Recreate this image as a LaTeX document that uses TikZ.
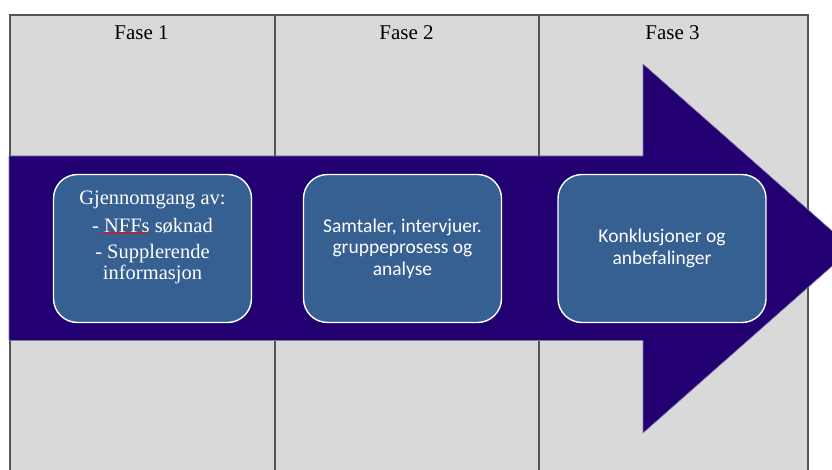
\documentclass[tikz,border=0pt]{standalone}
\usepackage{fontspec}
\setmainfont{Liberation Serif}
\newfontfamily\calibrifont{Carlito}
\usetikzlibrary{positioning,decorations.pathmorphing}
\definecolor{phasegray}{RGB}{217,217,217}
\definecolor{arrowpurple}{RGB}{34,0,114}
\definecolor{boxblue}{RGB}{55,96,146}
\definecolor{gridline}{RGB}{85,85,85}

\begin{document}
\begin{tikzpicture}[x=1pt,y=-1pt,
  phase/.style={rectangle,rounded corners=24pt,draw=white,line width=1.4pt,fill=boxblue,
    minimum width=198pt,minimum height=148pt,inner sep=0pt},
  boxtext/.style={text=white,align=center,font=\calibrifont\fontsize{19.5}{21.5}\selectfont},
  serifboxtext/.style={text=white,align=center,font=\fontsize{20.5}{21}\selectfont},
  header/.style={font=\fontsize{21}{22}\selectfont}]
  \tikzstyle{grid} = [draw=gridline,line width=1.1pt]
%  the page is 832 x 470, y runs downwards

  \useasboundingbox (0,0) rectangle (832,470);
  \clip (0,0) rectangle (832,470);

  % table with three phases
  \fill[phasegray] (10,15) rectangle (808,480);
  \draw[grid] (10,480) -- (10,15) -- (808,15) -- (808,480);
  \foreach \x in {275,539}
    \draw[grid] (\x,15) -- (\x,480);

  \node[header] (FASE1) at (141.5,33) {Fase 1};
  \node[header] (FASE2) at (406.5,33) {Fase 2};
  \node[header] (FASE3) at (672.5,33) {Fase 3};

  % big arrow
  \fill[arrowpurple,draw=arrowpurple!55!white,line width=0.6pt]
    (9,156) -- (643,156) -- (643,64) -- (852,248.5) -- (643,433) -- (643,340.5) -- (9,340.5) -- cycle;

  \node[phase] (BOX1) at (152.5,248.5) {};
  \node[phase] (BOX2) at (402.5,248.5) {};
  \node[phase,minimum width=208pt] (BOX3) at (662,248.5) {};

  \node[serifboxtext] (TXT1) at (152.5,237) {Gjennomgang av:\\[7pt]
    - NFFs søknad\\[5pt]
    - Supplerende\\
    informasjon};
  \node[boxtext] (TXT2) at (BOX2.center) {Samtaler, intervjuer.\\gruppeprosess og\\analyse};
  \node[boxtext] (TXT3) at (BOX3.center) {Konklusjoner og\\anbefalinger};

  \draw[red,line width=0.6pt,decorate,decoration={snake,amplitude=0.9pt,segment length=3pt}]
    (102,233) -- (148,233);

\end{tikzpicture}
\end{document}
